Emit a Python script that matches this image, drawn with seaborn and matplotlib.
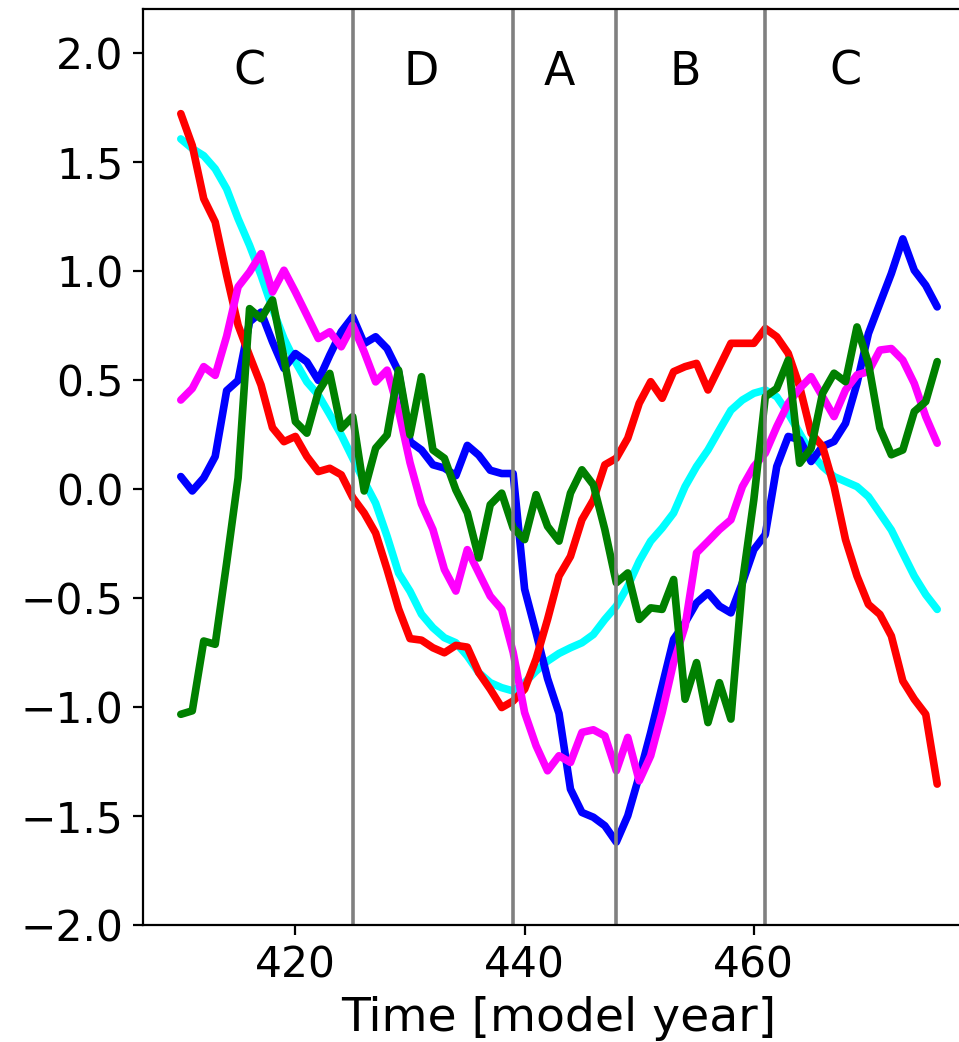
import matplotlib
matplotlib.use("Agg")
import matplotlib.pyplot as plt
import numpy as np
import pandas as pd
import seaborn as sns

# ---------------- data ----------------
years = list(range(410, 477))

blue = [0.056, -0.01, 0.05, 0.148, 0.45, 0.497, 0.765, 0.81, 0.674, 0.552,
        0.62, 0.582, 0.497, 0.613, 0.72, 0.788, 0.666, 0.697, 0.643, 0.537,
        0.216, 0.178, 0.11, 0.095, 0.06, 0.199, 0.154, 0.085, 0.07, 0.07,
        -0.46, -0.66, -0.87, -1.03, -1.377, -1.484, -1.506, -1.545, -1.62, -1.499,
        -1.316, -1.118, -0.904, -0.69, -0.614, -0.523, -0.477, -0.538, -0.569, -0.431,
        -0.279, -0.21, 0.102, 0.24, 0.225, 0.125, 0.194, 0.217, 0.30, 0.483,
        0.712, 0.85, 0.987, 1.146, 1.002, 0.933, 0.834]

red = [1.72, 1.574, 1.33, 1.223, 0.979, 0.75, 0.61, 0.476, 0.28, 0.216,
       0.24, 0.148, 0.079, 0.094, 0.064, -0.04, -0.111, -0.203, -0.37, -0.55,
       -0.687, -0.694, -0.729, -0.752, -0.718, -0.726, -0.843, -0.919, -1.003, -0.973,
       -0.919, -0.78, -0.599, -0.40, -0.31, -0.142, -0.051, 0.110, 0.14, 0.232,
       0.392, 0.491, 0.415, 0.537, 0.56, 0.575, 0.453, 0.56, 0.667, 0.667,
       0.667, 0.735, 0.697, 0.621, 0.468, 0.255, 0.194, 0.011, -0.233, -0.40,
       -0.53, -0.576, -0.675, -0.881, -0.965, -1.034, -1.354]

cyan = [1.604, 1.56, 1.527, 1.467, 1.375, 1.238, 1.116, 0.979, 0.826, 0.689,
        0.582, 0.49, 0.43, 0.34, 0.247, 0.14, 0.034, -0.066, -0.218, -0.386,
        -0.47, -0.575, -0.637, -0.683, -0.706, -0.767, -0.843, -0.889, -0.912, -0.927,
        -0.889, -0.836, -0.79, -0.755, -0.729, -0.706, -0.668, -0.599, -0.538, -0.447,
        -0.332, -0.24, -0.18, -0.111, 0.01, 0.102, 0.178, 0.27, 0.36, 0.407,
        0.438, 0.453, 0.422, 0.346, 0.255, 0.163, 0.102, 0.056, 0.033, 0.01,
        -0.036, -0.112, -0.189, -0.295, -0.40, -0.485, -0.553]

magenta = [0.407, 0.46, 0.56, 0.52, 0.70, 0.926, 0.994, 1.078, 0.902, 1.002,
           0.902, 0.796, 0.689, 0.72, 0.651, 0.75, 0.628, 0.49, 0.544, 0.36,
           0.12, -0.07, -0.187, -0.37, -0.469, -0.279, -0.386, -0.492, -0.553, -0.75,
           -1.026, -1.178, -1.293, -1.224, -1.255, -1.117, -1.105, -1.133, -1.293, -1.14,
           -1.339, -1.224, -1.026, -0.797, -0.63, -0.294, -0.241, -0.187, -0.142, 0.010,
           0.102, 0.163, 0.285, 0.392, 0.46, 0.514, 0.422, 0.331, 0.453, 0.522,
           0.537, 0.636, 0.643, 0.59, 0.483, 0.331, 0.209]

green = [-1.034, -1.018, -0.698, -0.713, -0.34, 0.05, 0.826, 0.78, 0.866, 0.60,
         0.308, 0.255, 0.445, 0.529, 0.277, 0.331, -0.01, 0.186, 0.247, 0.544,
         0.247, 0.514, 0.178, 0.14, -0.005, -0.11, -0.317, -0.073, -0.02, -0.18,
         -0.233, -0.027, -0.172, -0.24, -0.02, 0.087, 0.018, -0.187, -0.431, -0.386,
         -0.599, -0.546, -0.553, -0.416, -0.965, -0.797, -1.072, -0.889, -1.056, -0.431,
         -0.05, 0.422, 0.46, 0.59, 0.117, 0.186, 0.438, 0.53, 0.491, 0.742,
         0.575, 0.278, 0.156, 0.178, 0.354, 0.4, 0.583]

series_names = ["cyan", "blue", "red", "magenta", "green"]   # drawing order
series_values = [cyan, blue, red, magenta, green]
palette = {"cyan": "#00ffff", "blue": "#0000ff", "red": "#ff0000",
           "magenta": "#ff00ff", "green": "#008000"}

phase_bounds = [425, 439, 448, 461]
phase_labels = ["C", "D", "A", "B", "C"]
phase_label_x = [416, 431, 443, 454, 468]
phase_label_y = 1.91

xticks = [420, 440, 460]
xlabel = "Time [model year]"

# ---------------- plot ----------------
sns.set_style("ticks", rc={"axes.edgecolor": "black", "xtick.color": "black",
                           "ytick.color": "black", "text.color": "black",
                           "axes.labelcolor": "black"})
plt.rcParams["font.family"] = ["DejaVu Sans"]

df = pd.DataFrame({
    "year": years * len(series_names),
    "value": [v for s in series_values for v in s],
    "series": [n for n, s in zip(series_names, series_values) for _ in s],
})

fig = plt.figure(figsize=(9.59, 10.42), dpi=100)
ax = fig.add_axes([0.1491, 0.1123, 0.8676, 0.8791])

sns.lineplot(data=df, x="year", y="value", hue="series", hue_order=series_names,
             palette=palette, linewidth=5.5, legend=False, estimator=None,
             sort=False, ax=ax)

for b in phase_bounds:
    ax.axvline(b, color="gray", linewidth=2.6)

for lx, lab in zip(phase_label_x, phase_labels):
    ax.text(lx, phase_label_y, lab, ha="center", va="center", fontsize=33)

ax.set_xlim(406.7, 479.3)
ax.set_ylim(-2.0, 2.2)
ax.set_xticks(xticks)
ax.set_yticks(np.arange(-2.0, 2.01, 0.5))
ax.set_xlabel(xlabel, fontsize=34, labelpad=7)
ax.set_ylabel("")
ax.tick_params(labelsize=30.5, length=7, width=1.6, pad=7)
for sp in ax.spines.values():
    sp.set_linewidth(1.6)

fig.savefig("out.png", dpi=100)
